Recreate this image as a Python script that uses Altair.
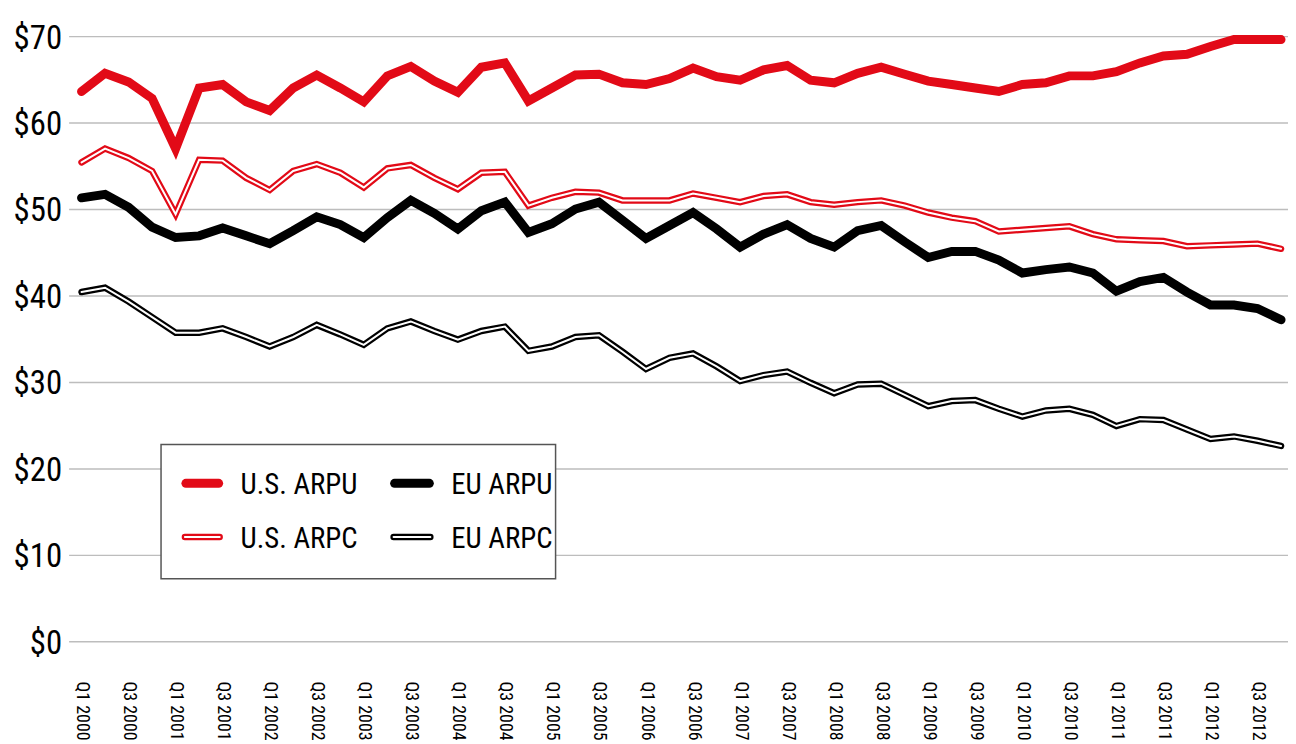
import json
import altair as alt
import pandas as pd

# ---------------- data ----------------
years = list(range(2000, 2013))
quarter_labels = [f"Q{q} {y}" for y in years for q in (1, 2, 3, 4)]

us_arpu = [63.6, 65.7, 64.7, 62.8, 57.0, 64.0, 64.4, 62.4, 61.4, 64.0,
           65.5, 64.0, 62.4, 65.4, 66.5, 64.8, 63.5, 66.4, 66.9, 62.5,
           64.0, 65.5, 65.6, 64.6, 64.4, 65.1, 66.3, 65.3, 64.9, 66.1,
           66.6, 64.9, 64.6, 65.7, 66.4, 65.6, 64.8, 64.4, 64.0, 63.6,
           64.4, 64.6, 65.4, 65.4, 65.9, 66.9, 67.7, 67.9, 68.8, 69.6,
           69.6, 69.6]
us_arpc = [55.4, 57.0, 55.9, 54.4, 49.4, 55.7, 55.6, 53.6, 52.2, 54.4,
           55.2, 54.2, 52.5, 54.7, 55.1, 53.6, 52.3, 54.2, 54.3, 50.4,
           51.3, 52.0, 51.9, 51.0, 51.0, 51.0, 51.8, 51.3, 50.8, 51.5,
           51.7, 50.8, 50.5, 50.8, 51.0, 50.4, 49.6, 49.0, 48.6, 47.4,
           47.6, 47.8, 48.0, 47.1, 46.5, 46.4, 46.3, 45.7, 45.8, 45.9,
           46.0, 45.4]
eu_arpu = [51.3, 51.7, 50.2, 47.9, 46.7, 46.9, 47.8, 46.9, 46.0, 47.5,
           49.1, 48.2, 46.7, 49.0, 51.0, 49.5, 47.7, 49.8, 50.8, 47.3,
           48.3, 50.0, 50.8, 48.7, 46.6, 48.1, 49.6, 47.7, 45.6, 47.1,
           48.2, 46.6, 45.6, 47.5, 48.1, 46.2, 44.4, 45.1, 45.1, 44.1,
           42.6, 43.0, 43.3, 42.6, 40.5, 41.6, 42.1, 40.4, 38.9, 38.9,
           38.5, 37.2]
eu_arpc = [40.4, 40.9, 39.3, 37.5, 35.7, 35.7, 36.2, 35.2, 34.1, 35.2,
           36.6, 35.5, 34.3, 36.2, 37.0, 35.9, 34.9, 35.9, 36.4, 33.6,
           34.1, 35.2, 35.4, 33.5, 31.5, 32.8, 33.3, 31.8, 30.1, 30.8,
           31.2, 29.9, 28.7, 29.7, 29.8, 28.5, 27.2, 27.8, 27.9, 26.9,
           26.0, 26.7, 26.9, 26.2, 24.9, 25.7, 25.6, 24.5, 23.4, 23.7,
           23.2, 22.6]

series_names = ["U.S. ARPU", "U.S. ARPC", "EU ARPU", "EU ARPC"]
series_values = [us_arpu, us_arpc, eu_arpu, eu_arpc]
y_ticks = [0, 10, 20, 30, 40, 50, 60, 70]
x_ticks = list(range(0, 52, 2))

rows = []
for name, vals in zip(series_names, series_values):
    for i, v in enumerate(vals):
        rows.append({"idx": i, "quarter": quarter_labels[i], "series": name, "value": v})
df = pd.DataFrame(rows)

# ---------------- style ----------------
FONT = "Roboto Condensed, DejaVu Sans Condensed, sans-serif"
RED = "#e20a17"
BLACK = "#000000"

x_enc = alt.X(
    "idx:Q",
    scale=alt.Scale(domain=[-0.549, 51.296], nice=False, zero=False),
    axis=alt.Axis(
        values=x_ticks,
        labelExpr=f"{json.dumps(quarter_labels)}[datum.value]",
        labelAngle=90,
        labelFontSize=18,
        labelPadding=40,
        grid=False, ticks=False, domain=False, title=None,
    ),
)
y_enc = alt.Y(
    "value:Q",
    scale=alt.Scale(domain=[0, 70], nice=False),
    axis=alt.Axis(
        values=y_ticks,
        labelExpr="'$' + datum.value",
        labelFontSize=33,
        labelPadding=7,
        labelOffset=2,
        grid=True, gridColor="#bdbdbd", gridWidth=1.5,
        ticks=False, domain=False, title=None,
    ),
)

base = alt.Chart(df).encode(x=x_enc, y=y_enc, order="idx:Q")


def line(name, color, width):
    return base.transform_filter(alt.datum.series == name).mark_line(
        color=color, strokeWidth=width, strokeCap="round", strokeJoin="miter"
    )


layers = [
    line("U.S. ARPU", RED, 9),
    line("U.S. ARPC", RED, 6.5),
    line("U.S. ARPC", "white", 2),
    line("EU ARPU", BLACK, 9),
    line("EU ARPC", BLACK, 6.5),
    line("EU ARPC", "white", 2),
]

# ---------------- legend (drawn as marks, plot-area pixel offsets) ----------------
one = pd.DataFrame({"k": [0]})
layers.append(
    alt.Chart(one).mark_rect(fill="white", stroke="#555555", strokeWidth=1.5).encode(
        x=alt.value(93), x2=alt.value(490), y=alt.value(411), y2=alt.value(546)
    )
)

legend_items = [
    # label, color, outer width, double?, sample x0, x1, text x, row y
    ("U.S. ARPU", RED, 9, False, 118, 151, 173, 450),
    ("EU ARPU", BLACK, 9, False, 328, 363, 385, 450),
    ("U.S. ARPC", RED, 6.5, True, 117, 152, 173, 504),
    ("EU ARPC", BLACK, 6.5, True, 327, 364, 385, 504),
]
for label, color, w, dbl, x0, x1, tx, ry in legend_items:
    layers.append(
        alt.Chart(one).mark_rule(color=color, strokeWidth=w, strokeCap="round").encode(
            x=alt.value(x0), x2=alt.value(x1), y=alt.value(ry)
        )
    )
    if dbl:
        layers.append(
            alt.Chart(one).mark_rule(color="white", strokeWidth=2, strokeCap="round").encode(
                x=alt.value(x0), x2=alt.value(x1), y=alt.value(ry)
            )
        )
    layers.append(
        alt.Chart(one).mark_text(
            align="left", baseline="middle", font=FONT, fontSize=29, color="black"
        ).encode(x=alt.value(tx), y=alt.value(ry + 2), text=alt.value(label))
    )

chart = (
    alt.layer(*layers)
    .properties(
        width=1227,
        height=609,
        padding={"left": 61, "top": 26, "right": 0, "bottom": 101},
        autosize=alt.AutoSizeParams(type="none"),
    )
    .configure_view(stroke=None)
    .configure_axis(labelFont=FONT, labelColor="black")
)

chart.save("out.html", embed_options={"renderer": "svg", "actions": False})
